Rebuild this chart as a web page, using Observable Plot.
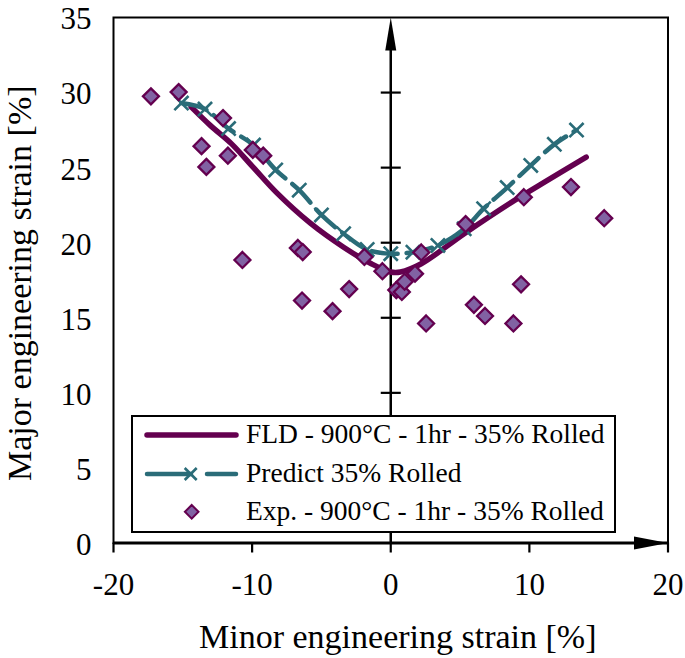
<!DOCTYPE html>
<html>
<head>
<meta charset="utf-8">
<script src="https://cdn.jsdelivr.net/npm/d3@7"></script>
<script src="https://cdn.jsdelivr.net/npm/@observablehq/plot@0.6"></script>
<style>
  body { margin: 0; background: #fff; }
  #wrap { position: relative; width: 685px; height: 658px; font-family: "Liberation Serif", "Times New Roman", serif; }
  #legend { position: absolute; left: 131px; top: 415px; }
</style>
</head>
<body>
<div id="wrap"></div>
<script>
// ---- data ----
const xTicks = [-20, -10, 0, 10, 20];
const yTicks = [0, 5, 10, 15, 20, 25, 30, 35];
const axisTicks = [10, 15, 20, 25, 30];

const fldX = [-14.4, -13, -11.5, -9.9, -8.2, -5.8, -3.4, -1.4, 0, 0.7, 2.2, 5.3, 8.9, 11.3, 14.1];
const fldY = [29.05, 27.8, 26.6, 25.0, 23.3, 21.3, 19.7, 18.6, 18.05, 18.05, 18.6, 20.6, 22.8, 24.15, 25.7];

const predX = [-15.1, -13.4, -11.7, -9.9, -8.3, -6.6, -5.0, -3.4, -1.7, 0, 1.6, 3.4, 5.3, 6.7, 8.4, 10.1, 11.8, 13.4];
const predY = [29.3, 28.9, 27.6, 26.5, 24.85, 23.5, 21.85, 20.6, 19.55, 19.27, 19.37, 19.82, 20.93, 22.27, 23.67, 25.15, 26.55, 27.5];

const expX = [-17.3, -15.3, -12.1, -13.65, -13.3, -11.75, -9.95, -9.2, -10.7, -6.7, -6.35, -6.4, -4.2, -3.0, -1.9, -0.6, 0.4, 0.8, 1.0, 1.75, 2.2, 2.55, 5.4, 6.0, 6.8, 8.85, 9.4, 9.6, 13.0, 15.4];
const expY = [29.75, 30.03, 28.3, 26.43, 25.05, 25.8, 26.18, 25.8, 18.85, 19.65, 19.38, 16.15, 15.44, 16.91, 19.05, 18.1, 16.85, 16.72, 17.4, 17.94, 19.35, 14.62, 21.24, 15.86, 15.12, 14.62, 17.23, 23.03, 23.71, 21.63];

const seriesNames = ["FLD - 900°C - 1hr - 35% Rolled", "Predict 35% Rolled", "Exp. - 900°C - 1hr - 35% Rolled"];
const xTitle = "Minor engineering strain [%]";
const yTitle = "Major engineering strain [%]";

// ---- styles ----
const PURPLE = "#64004f";
const TEAL = "#2a6c78";
const DFILL = "#8162a3";
const FONT = "'Liberation Serif', 'Times New Roman', serif";

const fld = fldX.map((x, i) => ({x, y: fldY[i]}));
const pred = predX.map((x, i) => ({x, y: predY[i]}));
const exp = expX.map((x, i) => ({x, y: expY[i]}));

// custom symbols
const arrowUp = {draw(ctx) { ctx.moveTo(0, 0); ctx.lineTo(5.5, 33); ctx.lineTo(-5.5, 33); ctx.closePath(); }};
const arrowRight = {draw(ctx) { ctx.moveTo(0, 0); ctx.lineTo(-34, 6.5); ctx.lineTo(-34, -6.5); ctx.closePath(); }};
const hTick = {draw(ctx) { ctx.moveTo(-10, 0); ctx.lineTo(10, 0); }};

const fmt = d => String(d);

const chart = Plot.plot({
  width: 685,
  height: 658,
  marginLeft: 113,
  marginRight: 17.5,
  marginTop: 17,
  marginBottom: 115.5,
  style: {fontFamily: FONT, background: "#fff", color: "#000"},
  x: {domain: [-20, 20]},
  y: {domain: [0, 35]},
  marks: [
    Plot.frame({stroke: "#000", strokeWidth: 2}),
    Plot.axisX({ticks: xTicks, tickSize: 10, tickPadding: 20, fontSize: 31, strokeWidth: 2.2, tickFormat: fmt, label: null}),
    Plot.axisY({ticks: yTicks, tickSize: 0, tickPadding: 22, fontSize: 31, tickFormat: fmt, label: null, dy: 2}),
    Plot.ruleY([0], {stroke: "#000", strokeWidth: 3}),
    Plot.ruleX([0], {y1: 0, y2: 33, stroke: "#000", strokeWidth: 2.5}),
    Plot.dot(axisTicks, {x: () => 0, y: d => d, symbol: hTick, r: 5, fill: "none", stroke: "#000", strokeWidth: 2.2}),
    Plot.dot([35], {x: () => 0, y: d => d, symbol: arrowUp, r: 5, fill: "#000", stroke: "none"}),
    Plot.dot([20], {x: d => d, y: () => 0, symbol: arrowRight, r: 5, fill: "#000", stroke: "none"}),
    Plot.line(fld, {x: "x", y: "y", stroke: PURPLE, strokeWidth: 5.5, curve: "catmull-rom", strokeLinecap: "round"}),
    Plot.line(pred, {x: "x", y: "y", stroke: TEAL, strokeWidth: 4.5, curve: "catmull-rom", strokeDasharray: "26,9", strokeLinecap: "round"}),
    Plot.dot(pred, {x: "x", y: "y", symbol: "times", r: 6.5, stroke: TEAL, strokeWidth: 2.6}),
    Plot.dot(exp, {x: "x", y: "y", symbol: "diamond2", r: 7.2, fill: DFILL, stroke: PURPLE, strokeWidth: 2.3}),
    Plot.text([xTitle], {text: d => d, frameAnchor: "bottom", textAnchor: "middle", dx: 7, dy: 94, fontSize: 34, lineAnchor: "middle", fill: "#000"}),
    Plot.text([yTitle], {text: d => d, frameAnchor: "left", textAnchor: "middle", rotate: -90, dx: -93, dy: 3, fontSize: 34, lineAnchor: "middle", fill: "#000"})
  ]
});

const wrap = document.getElementById("wrap");
wrap.appendChild(chart);

// ---- legend (overlay box) ----
const ns = "http://www.w3.org/2000/svg";
const leg = document.createElementNS(ns, "svg");
leg.setAttribute("id", "legend");
leg.setAttribute("width", 486);
leg.setAttribute("height", 119);
const L = d3.select(leg);
L.append("rect").attr("x", 1).attr("y", 1).attr("width", 483).attr("height", 116)
  .attr("fill", "#fff").attr("stroke", "#000").attr("stroke-width", 2);
// row 1: solid line
L.append("line").attr("x1", 16).attr("x2", 105).attr("y1", 20).attr("y2", 20)
  .attr("stroke", PURPLE).attr("stroke-width", 5.5).attr("stroke-linecap", "round");
// row 2: dashed with x marker
L.append("line").attr("x1", 16).attr("x2", 60).attr("y1", 59).attr("y2", 59)
  .attr("stroke", TEAL).attr("stroke-width", 4.5).attr("stroke-linecap", "round");
L.append("line").attr("x1", 76).attr("x2", 105).attr("y1", 59).attr("y2", 59)
  .attr("stroke", TEAL).attr("stroke-width", 4.5).attr("stroke-linecap", "round");
L.append("path").attr("d", "M53.7,53L65.7,65M53.7,65L65.7,53")
  .attr("stroke", TEAL).attr("stroke-width", 2.6).attr("fill", "none");
// row 3: diamond
L.append("path").attr("d", "M60.7,90L67.5,96.8L60.7,103.6L53.9,96.8Z")
  .attr("fill", DFILL).attr("stroke", PURPLE).attr("stroke-width", 2);
const rows = [28, 66.7, 105];
seriesNames.forEach((s, i) => {
  L.append("text").attr("x", 115).attr("y", rows[i]).attr("font-size", 27.5)
    .attr("font-family", FONT).attr("fill", "#000").text(s);
});
wrap.appendChild(leg);
</script>
</body>
</html>
